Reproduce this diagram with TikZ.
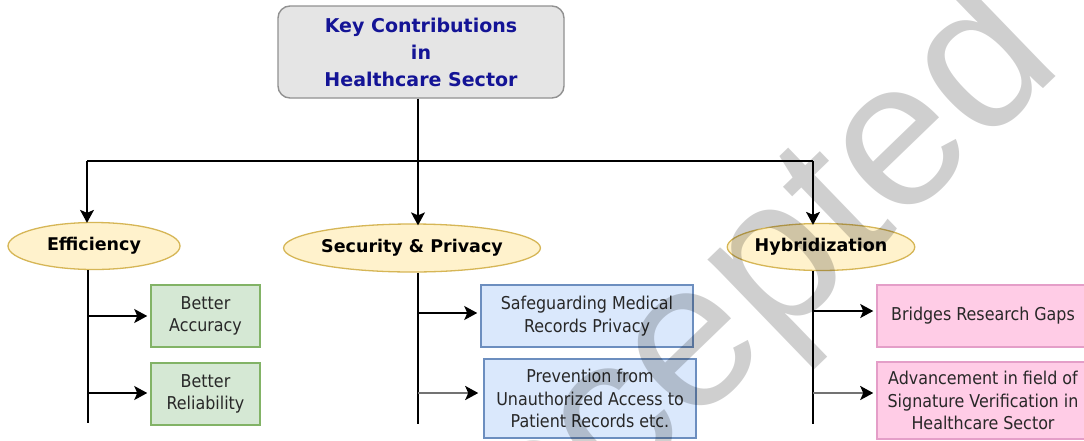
\documentclass[tikz,border=0pt]{standalone}
\usepackage{fontspec}
\setmainfont{DejaVu Sans}
\newfontfamily\condfont{DejaVu Sans Condensed}
\newfontfamily\wmfont{Liberation Sans}
\usetikzlibrary{arrows.meta,shapes.geometric}
\definecolor{titleblue}{RGB}{20,20,150}
\definecolor{topfill}{RGB}{229,229,229}
\definecolor{topline}{RGB}{145,145,145}
\definecolor{ellfill}{RGB}{255,242,204}
\definecolor{ellline}{RGB}{214,182,86}
\definecolor{grfill}{RGB}{213,232,212}
\definecolor{grline}{RGB}{130,179,102}
\definecolor{blfill}{RGB}{218,232,252}
\definecolor{blline}{RGB}{108,142,191}
\definecolor{pkfill}{RGB}{255,204,230}
\definecolor{pkline}{RGB}{228,158,200}
\definecolor{bodytext}{RGB}{40,40,40}
\definecolor{shaftgray}{RGB}{115,115,115}
\tikzset{
  topbox/.style={draw=topline, fill=topfill, line width=1.4pt, rounded corners=12pt,
    minimum width=286pt, minimum height=92pt, align=center, text=titleblue,
    font=\bfseries\fontsize{19}{27}\selectfont, inner sep=0pt},
  ell/.style={ellipse, draw=ellline, fill=ellfill, line width=1.3pt, inner sep=0pt,
    font=\bfseries\fontsize{17.5}{21}\selectfont, text=black},
  leaf/.style={rectangle, line width=1.5pt, inner sep=0pt, align=center, text=bodytext,
    font=\condfont\fontsize{17.7}{22.7}\selectfont},
  grbox/.style={leaf, draw=grline, fill=grfill},
  blbox/.style={leaf, draw=blline, fill=blfill},
  pkbox/.style={leaf, draw=pkline, fill=pkfill},
  wire/.style={line width=1.4pt, draw=black},
  arr/.style={wire, -{Stealth[length=13pt,width=14pt,inset=3pt,color=black]}},
  grayarr/.style={arr, draw=shaftgray, line width=2.4pt},
}
\begin{document}
\begin{tikzpicture}[x=1pt,y=-1pt]
\useasboundingbox (0,0) rectangle (1084,440);
\fill[white] (0,0) rectangle (1084,440);

% nodes
\node[topbox] (top) at (421,52) {Key Contributions\\in\\Healthcare Sector};
\node[ell, minimum width=172pt, minimum height=47pt] (eff) at (94,246) {Efficiency};
\node[ell, minimum width=220pt, minimum height=48pt] (sec) at (412,248) {Security \& Privacy};
\node[ell, minimum width=172pt, minimum height=47pt] (hyb) at (821,247) {Hybridization};

\node[grbox, minimum width=109pt, minimum height=62pt] (acc) at (205.5,316) {Better\\Accuracy};
\node[grbox, minimum width=109pt, minimum height=62pt] (rel) at (205.5,394) {Better\\Reliability};
\node[blbox, minimum width=212pt, minimum height=62pt] (safe) at (587,316) {Safeguarding Medical\\Records Privacy};
\node[blbox, minimum width=212pt, minimum height=79pt] (prev) at (590,398.5) {Prevention from\\Unauthorized Access to\\Patient Records etc.};
\node[pkbox, minimum width=212pt, minimum height=62pt] (brid) at (983,316) {Bridges Research Gaps};
\node[pkbox, minimum width=212pt, minimum height=77pt] (adv) at (983,400.5) {Advancement in field of\\Signature Verification in\\Healthcare Sector};

% junction coordinates
\coordinate (j) at (418,161);
\coordinate (hl) at (87,161);
\coordinate (hr) at (813,161);
\coordinate (te) at (88,423);
\coordinate (ts) at (418,424);
\coordinate (th) at (813,424);
\coordinate (ea) at (88,316);
\coordinate (eb) at (88,393);
\coordinate (sa) at (418,313);
\coordinate (sb) at (418,393);
\coordinate (ha) at (813,311);
\coordinate (hb) at (813,393);

% tree connectors
\draw[wire] (top.south -| j) -- (j);
\draw[wire] (hl) -- (hr);
\draw[arr] (hl) -- ([yshift=-1pt]hl |- eff.north);
\draw[arr] (j) -- ([yshift=-2pt]j |- sec.north);
\draw[arr] (hr) -- ([yshift=-2pt]hr |- hyb.north);

\draw[wire] (eff.south -| te) -- (te);
\draw[wire] (sec.south -| ts) -- (ts);
\draw[wire] (hyb.south -| th) -- (th);

\draw[arr, shorten >=3pt] (ea) -- (ea -| acc.west);
\draw[arr, shorten >=3pt] (eb) -- (eb -| rel.west);
\draw[arr, shorten >=3pt] (sa) -- (sa -| safe.west);
\draw[grayarr, shorten >=5pt] (sb) -- (sb -| prev.west);
\draw[arr, shorten >=3pt] (ha) -- (ha -| brid.west);
\draw[grayarr, shorten >=3pt] (hb) -- (hb -| adv.west);

% watermark
\node[rotate=44, text=black, text opacity=0.19, inner sep=0pt,
  font=\wmfont\fontsize{208}{208}\selectfont] (wm) at (716,330) {Accepted};
\end{tikzpicture}
\end{document}
